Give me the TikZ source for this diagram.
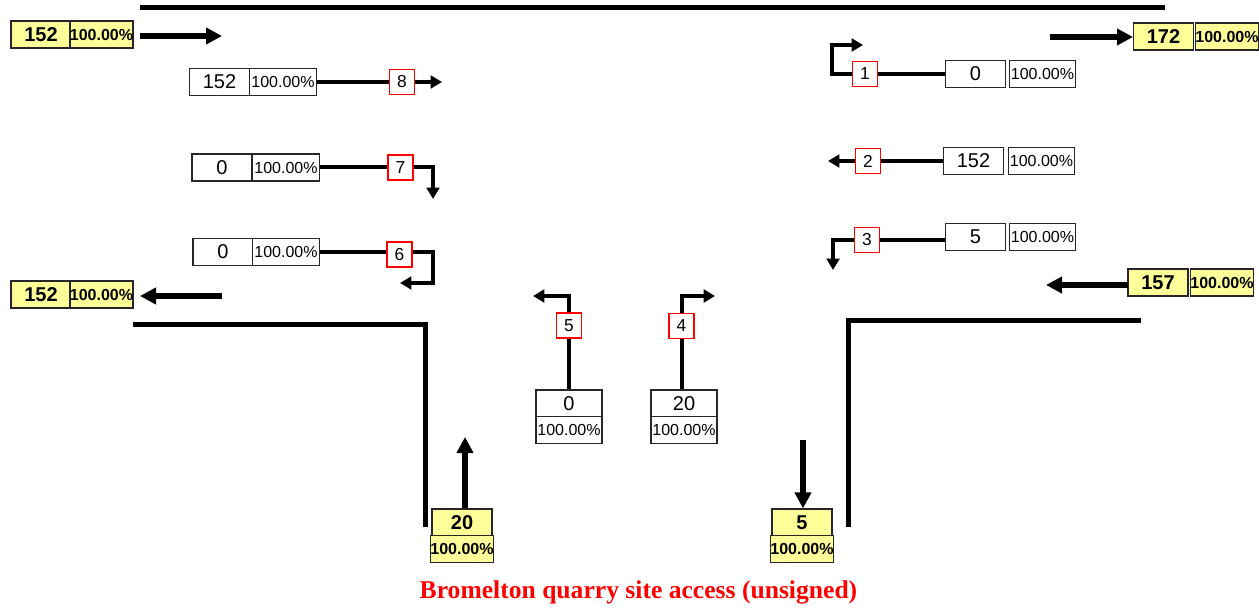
\documentclass[tikz,border=0pt]{standalone}
\usepackage{fontspec}
\setmainfont{Liberation Sans}
\newfontfamily\titlefont{Liberation Serif}
\usetikzlibrary{arrows.meta}
\definecolor{cellyellow}{HTML}{FFFF99}
\definecolor{titlered}{HTML}{FF0000}
\tikzset{
  cellbase/.style={draw=black!85, line width=0.9pt, inner sep=0pt, minimum height=20.25pt, anchor=center},
  wnum/.style={cellbase, fill=white, minimum width=45pt, font=\fontsize{15}{15}\selectfont},
  wpct/.style={cellbase, fill=white, minimum width=50pt, font=\fontsize{12}{12}\selectfont},
  ynum/.style={cellbase, fill=cellyellow, minimum width=45pt, font=\fontsize{15}{15}\selectfont\bfseries},
  ypct/.style={cellbase, fill=cellyellow, minimum width=45pt, font=\fontsize{12}{12}\selectfont\bfseries},
  turnno/.style={draw=titlered, line width=1.1pt, fill=white, inner sep=0pt, minimum width=18.5pt, minimum height=19pt, font=\fontsize{13}{13}\selectfont},
  road/.style={line width=3.75pt, line cap=butt},
  mainarrow/.style={line width=4.5pt, -{Triangle[length=12pt,width=12pt]}},
  turnline/.style={line width=3pt},
  turnarrow/.style={line width=3pt, -{Triangle[length=8.5pt,width=9.5pt]}},
}
\begin{document}
\begin{tikzpicture}[x=0.75pt,y=-0.75pt]
\useasboundingbox (0,0) rectangle (1259,613);

% roads
\coordinate (rtA) at (140,8); \coordinate (rtB) at (1165,8);
\draw[road] (rtA) -- (rtB);
\coordinate (rlA) at (133,324); \coordinate (rlB) at (425,324); \coordinate (rlC) at (425,527);
\draw[road] (rlA) -- (rlB) -- (rlC);
\coordinate (rrA) at (1141,320); \coordinate (rrB) at (848,320); \coordinate (rrC) at (848,527);
\draw[road] (rrA) -- (rrB) -- (rrC);

% left approach in (yellow)
\node[ynum] (yLin) at (41,34.5) {152};
\node[ypct] (yLinp) at (101.5,34.5) {100.00\%};
\coordinate (aLinS) at (140,36); \coordinate (aLinE) at (222,36);
\draw[mainarrow] (aLinS) -- (aLinE);

% left approach out (yellow)
\node[ynum] (yLout) at (41,294.5) {152};
\node[ypct] (yLoutp) at (101.5,294.5) {100.00\%};
\coordinate (aLoutS) at (222,296); \coordinate (aLoutE) at (140,296);
\draw[mainarrow] (aLoutS) -- (aLoutE);

% right approach out (yellow)
\node[ynum] (yRout) at (1163.5,36.5) {172};
\node[ypct] (yRoutp) at (1227,36.5) {100.00\%};
\coordinate (aRoutS) at (1050,37); \coordinate (aRoutE) at (1133,37);
\draw[mainarrow] (aRoutS) -- (aRoutE);

% right approach in (yellow)
\node[ynum] (yRin) at (1158,282.5) {157};
\node[ypct] (yRinp) at (1222,282.5) {100.00\%};
\coordinate (aRinS) at (1128,285); \coordinate (aRinE) at (1046,285);
\draw[mainarrow] (aRinS) -- (aRinE);

% bottom-left (yellow)
\node[ynum] (yBL) at (462,522.5) {20};
\node[ypct] (yBLp) at (462,549) {100.00\%};
\coordinate (aBLE) at (465,437);
\draw[mainarrow] (yBL.north -| aBLE) -- (aBLE);

% bottom-right (yellow)
\node[ynum] (yBR) at (802,522.5) {5};
\node[ypct] (yBRp) at (802,549) {100.00\%};
\coordinate (aBRS) at (803,440);
\draw[mainarrow] (aBRS) -- (aBRS |- yBR.north);

% white count cells
\node[wnum] (w8) at (219.5,82) {152};
\node[wpct] (w8p) at (283,82) {100.00\%};
\node[wnum] (w7) at (222,167.5) {0};
\node[wpct] (w7p) at (286,167.5) {100.00\%};
\node[wnum] (w6) at (223,252) {0};
\node[wpct] (w6p) at (286,252) {100.00\%};
\node[wnum, minimum width=49.5pt] (w5) at (569,403.5) {0};
\node[wpct, minimum width=49.5pt] (w5p) at (569,430) {100.00\%};
\node[wnum, minimum width=49.5pt] (w4) at (684,403.5) {20};
\node[wpct, minimum width=49.5pt] (w4p) at (684,430) {100.00\%};
\node[wnum] (w1) at (975.5,74) {0};
\node[wpct] (w1p) at (1042.5,74) {100.00\%};
\node[wnum] (w2) at (973.5,161) {152};
\node[wpct] (w2p) at (1041.5,161) {100.00\%};
\node[wnum] (w3) at (975.5,237) {5};
\node[wpct] (w3p) at (1042.5,237) {100.00\%};

% free ends of turn arrows
\coordinate (e8) at (442,82);
\coordinate (e7) at (433,199);
\coordinate (c6) at (433,283); \coordinate (e6) at (400,283);
\coordinate (e5) at (533,296);
\coordinate (e4) at (715,296);
\coordinate (c1) at (832,45); \coordinate (e1) at (863,45);
\coordinate (e2) at (828,161);
\coordinate (e3) at (833,270);

% turn number boxes
\node[turnno] (t8) at (402,82) {8};
\node[turnno] (t7) at (400.5,167.5) {7};
\node[turnno] (t6) at (399.5,254.5) {6};
\node[turnno] (t5) at (569,325.5) {5};
\node[turnno] (t4) at (681.5,326) {4};
\node[turnno] (t1) at (865,74) {1};
\node[turnno] (t2) at (868,161) {2};
\node[turnno] (t3) at (867,240) {3};

% connectors
\draw[turnline] (w8p.east) -- (t8.west);
\draw[turnarrow] (t8.east) -- (e8);
\draw[turnline] (w7p.east) -- (t7.west);
\draw[turnarrow] (t7.east) -| (e7);
\draw[turnline] (w6p.east) -- (w6p.east -| t6.west);
\draw[turnarrow] (t6.east |- w6p.east) -| (c6) -- (e6);
\draw[turnline] (w5.north) -- (t5.south);
\draw[turnarrow] (t5.north) |- (e5);
\draw[turnline] (w4.north -| t4.south) -- (t4.south);
\draw[turnarrow] (t4.north) |- (e4);
\draw[turnline] (w1.west) -- (t1.east);
\draw[turnarrow] (t1.west) -| (c1) -- (e1);
\draw[turnline] (w2.west) -- (t2.east);
\draw[turnarrow] (t2.west) -- (e2);
\draw[turnline] (w3.west |- t3.east) -- (t3.east);
\draw[turnarrow] (t3.west) -| (e3);

% title
\node[text=titlered, font=\titlefont\bfseries\fontsize{19.2}{21}\selectfont] (title) at (638.5,592) {Bromelton quarry site access (unsigned)};
\end{tikzpicture}
\end{document}
